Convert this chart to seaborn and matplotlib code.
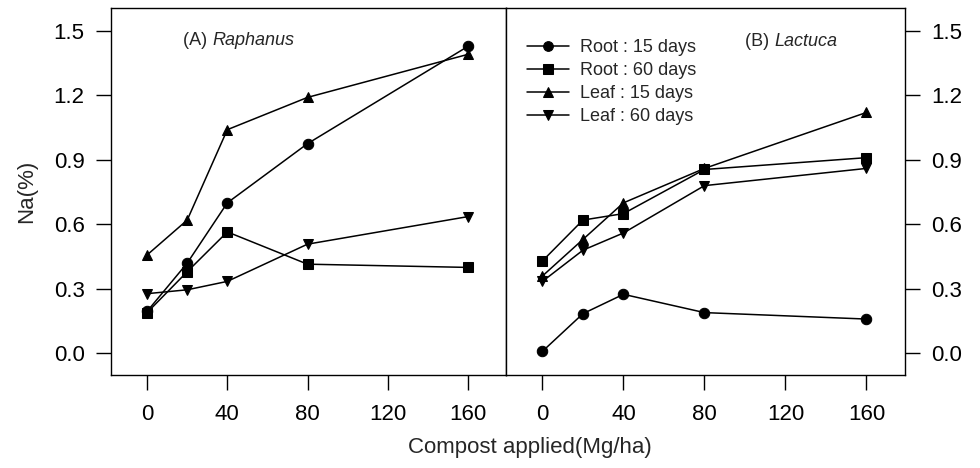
import pandas as pd
import numpy as np
import matplotlib.pyplot as plt
import seaborn as sns

# data
compost = [0, 20, 40, 80, 160]
series_names = ['Root : 15 days', 'Root : 60 days', 'Leaf : 15 days', 'Leaf : 60 days']

# (A) Raphanus
raph_root15 = [0.196, 0.42, 0.70, 0.975, 1.427]
raph_root60 = [0.19, 0.38, 0.565, 0.415, 0.40]
raph_leaf15 = [0.458, 0.62, 1.04, 1.19, 1.39]
raph_leaf60 = [0.278, 0.296, 0.335, 0.508, 0.636]

# (B) Lactuca
lact_root15 = [0.01, 0.185, 0.275, 0.19, 0.16]
lact_root60 = [0.43, 0.62, 0.65, 0.855, 0.91]
lact_leaf15 = [0.36, 0.53, 0.70, 0.86, 1.12]
lact_leaf60 = [0.335, 0.48, 0.56, 0.78, 0.86]


def make_df(vals):
    rows = []
    for name, v in zip(series_names, vals):
        for x, y in zip(compost, v):
            rows.append({'Compost': x, 'Na': y, 'Series': name})
    return pd.DataFrame(rows)


df_a = make_df([raph_root15, raph_root60, raph_leaf15, raph_leaf60])
df_b = make_df([lact_root15, lact_root60, lact_leaf15, lact_leaf60])

sns.set_style('ticks')
plt.rcParams['font.family'] = ['Liberation Sans', 'DejaVu Sans']

fig = plt.figure(figsize=(9.8, 4.68), dpi=100)
ax1 = fig.add_axes([0.1133, 0.1987, 0.403, 0.784])
ax2 = fig.add_axes([0.5163, 0.1987, 0.4071, 0.784])

markers = {'Root : 15 days': 'o', 'Root : 60 days': 's', 'Leaf : 15 days': '^', 'Leaf : 60 days': 'v'}
palette = {n: 'black' for n in series_names}

for ax, d in [(ax1, df_a), (ax2, df_b)]:
    sns.lineplot(data=d, x='Compost', y='Na', hue='Series', style='Series',
                 markers=markers, dashes=False, palette=palette, ax=ax,
                 markersize=7.5, linewidth=1.1, markeredgecolor='black',
                 legend=(ax is ax2))
    ax.set_xlim(-18, 179)
    ax.set_ylim(-0.1, 1.605)
    ax.set_xticks([0, 40, 80, 120, 160])
    ax.set_yticks([0.0, 0.3, 0.6, 0.9, 1.2, 1.5])
    ax.set_yticklabels(['0.0', '0.3', '0.6', '0.9', '1.2', '1.5'])
    ax.tick_params(axis='both', labelsize=16, length=11, width=1, direction='out', colors='black')
    ax.tick_params(axis='x', pad=10)
    ax.tick_params(axis='y', pad=8)
    ax.set_xlabel('')
    ax.set_ylabel('')
    for s in ax.spines.values():
        s.set_visible(True)
        s.set_linewidth(1.0)
        s.set_color('black')

ax1.set_ylabel('Na(%)', fontsize=16, labelpad=12)
ax2.yaxis.tick_right()
ax2.yaxis.set_label_position('right')

t1 = ax1.text(0.182, 0.913, '(A) ', transform=ax1.transAxes, fontsize=13, ha='left', va='center')
ax1.annotate('Raphanus', xy=(1, 0.5), xycoords=t1, fontsize=13, ha='left', va='center', style='italic')
t2 = ax2.text(0.599, 0.908, '(B) ', transform=ax2.transAxes, fontsize=13, ha='left', va='center')
ax2.annotate('Lactuca', xy=(1, 0.5), xycoords=t2, fontsize=13, ha='left', va='center', style='italic')

leg = ax2.legend(loc='upper left', bbox_to_anchor=(0.022, 0.95), frameon=False,
                 fontsize=13, handlelength=2.3, handletextpad=0.6, labelspacing=0.33,
                 borderaxespad=0.3)
for h in leg.legend_handles:
    h.set_markersize(7)

fig.text(0.541, 0.043, 'Compost applied(Mg/ha)', ha='center', va='center', fontsize=16)

plt.savefig('out.png', dpi=100)
